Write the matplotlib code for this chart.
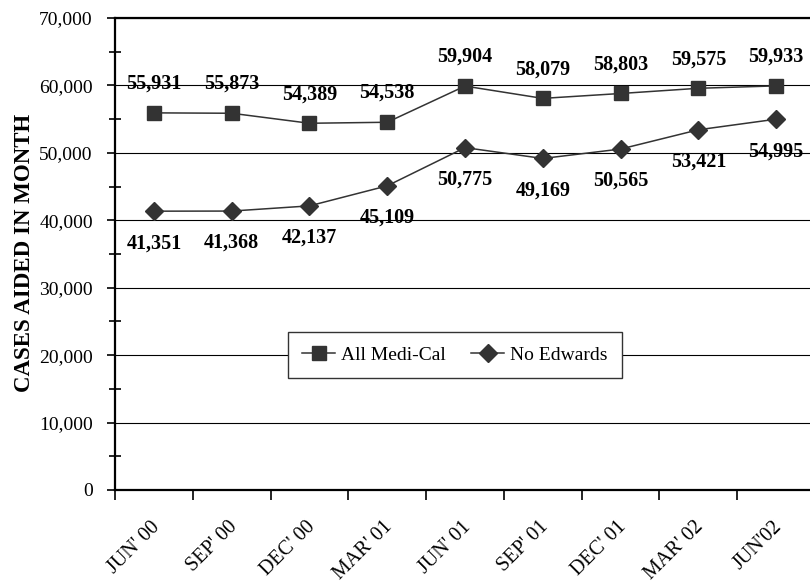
import matplotlib
matplotlib.use("Agg")
import matplotlib.pyplot as plt
from matplotlib.ticker import MultipleLocator, FuncFormatter
from matplotlib.transforms import ScaledTranslation

months = ["JUN' 00", "SEP' 00", "DEC' 00", "MAR' 01", "JUN' 01", "SEP' 01", "DEC' 01", "MAR' 02", "JUN'02"]
all_medical = [55931, 55873, 54389, 54538, 59904, 58079, 58803, 59575, 59933]
no_edwards = [41351, 41368, 42137, 45109, 50775, 49169, 50565, 53421, 54995]

plt.rcParams['font.family'] = ['Liberation Serif', 'DejaVu Serif']

W, H = 810, 585
fig = plt.figure(figsize=(W / 100, H / 100), dpi=100)
left, right, top, bottom = 115, 815, 18, 490
ax = fig.add_axes([left / W, (H - bottom) / H, (right - left) / W, (bottom - top) / H])

x = list(range(len(months)))
col = '#333333'
ax.plot(x, all_medical, color=col, lw=1.1, marker='s', ms=10, mfc=col, mec=col,
        label='All Medi-Cal', zorder=3)
ax.plot(x, no_edwards, color=col, lw=1.1, marker='D', ms=9, mfc=col, mec=col,
        label='No Edwards', zorder=3)

for xi, v in zip(x, all_medical):
    ax.annotate(f"{v:,}", (xi, v), xytext=(0, 21), textcoords='offset points',
                ha='center', va='center', fontsize=14.5, fontweight='bold', zorder=4)
for xi, v in zip(x, no_edwards):
    ax.annotate(f"{v:,}", (xi, v), xytext=(0, -23), textcoords='offset points',
                ha='center', va='center', fontsize=14.5, fontweight='bold', zorder=4)

ax.set_xlim(-0.5, len(months) - 0.5)
ax.set_ylim(0, 70000)
ax.yaxis.set_major_locator(MultipleLocator(10000))
ax.yaxis.set_minor_locator(MultipleLocator(5000))
ax.yaxis.set_major_formatter(FuncFormatter(lambda v, p: f"{int(v):,}"))
ax.grid(axis='y', which='major', color='black', lw=0.8, zorder=1)

ax.set_xticks([i - 0.5 for i in x])
ax.set_xticklabels([])
ax.set_xticks(x, minor=True)
ax.set_xticklabels(months, minor=True, rotation=45, ha='right', va='top',
                   rotation_mode='anchor', fontsize=14.5)
ax.tick_params(axis='x', which='major', direction='out', length=7, width=1.2)
ax.tick_params(axis='x', which='minor', length=0, pad=20)
ax.tick_params(axis='y', which='major', direction='out', length=6, width=1.2, labelsize=14, pad=10)
ax.tick_params(axis='y', which='minor', direction='inout', length=8, width=1.2)
shift = ScaledTranslation(-4 / 100, 0, fig.dpi_scale_trans)
for lab in ax.get_xticklabels(minor=True):
    lab.set_transform(lab.get_transform() + shift)

for s in ['left', 'bottom', 'top']:
    ax.spines[s].set_linewidth(1.6)
ax.spines['right'].set_visible(False)

fig.text(25 / W, 1 - 253 / H, 'CASES AIDED IN MONTH', rotation=90, ha='center', va='center',
         fontsize=16.5, fontweight='bold')

leg = ax.legend(loc='center', bbox_to_anchor=((455 - left) / (right - left), (bottom - 355) / (bottom - top)),
                ncol=2, frameon=True, fancybox=False, edgecolor='#333333', fontsize=14,
                handlelength=1.7, columnspacing=1.3, borderpad=0.75, handletextpad=0.3)
leg.get_frame().set_linewidth(1.0)
leg.get_frame().set_alpha(1)

fig.savefig('out.png', dpi=100)
